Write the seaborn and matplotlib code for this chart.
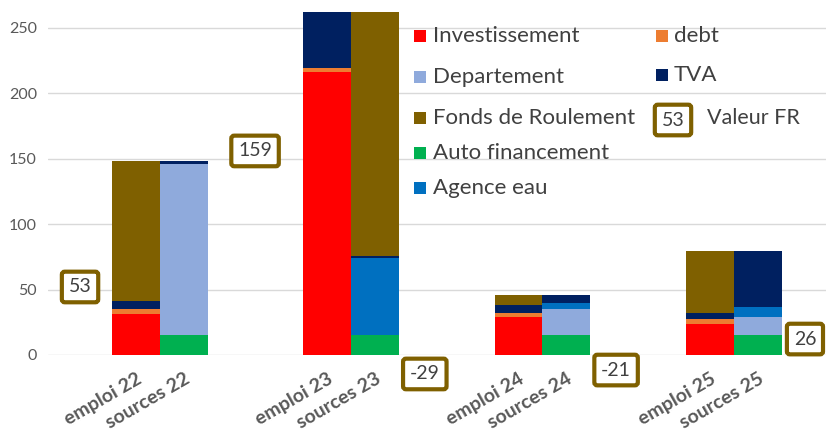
import numpy as np
import pandas as pd
import seaborn as sns
import matplotlib.pyplot as plt
from matplotlib.patches import Rectangle

# bars, in the order they stand on the chart
bars = ["emploi 22", "sources 22", "emploi 23", "sources 23",
        "emploi 24", "sources 24", "emploi 25", "sources 25"]

# stacking order, bottom to top
series = ["Investissement", "Auto financement", "Departement", "Agence eau",
          "debt", "TVA", "Fonds de Roulement"]
investissement = [31, 0, 216, 0, 29, 0, 24, 0]
auto_financement = [0, 15, 0, 15, 0, 15, 0, 15]
departement = [0, 131, 0, 0, 0, 20.5, 0, 14]
agence_eau = [0, 0, 0, 59, 0, 4, 0, 8]
debt = [4, 0, 3.5, 0, 3, 0, 3.5, 0]
tva = [6, 2.5, 43, 1.5, 6, 6, 4.5, 42.5]
fonds_roulement = [107, 0, 0, 187, 7.5, 0, 47.5, 0]

valeur_fr = [53, 159, -29, -21, 26]

colors = {"Investissement": "#FF0000", "debt": "#ED7D31", "Departement": "#8FAADC",
          "TVA": "#002060", "Fonds de Roulement": "#7F6000",
          "Auto financement": "#00B050", "Agence eau": "#0070C0"}
fr_color = "#7F6000"

values = dict(zip(series, [investissement, auto_financement, departement, agence_eau,
                           debt, tva, fonds_roulement]))

# slots: one empty slot before, two between each pair
slot_of = [1 + 4 * (k // 2) + k % 2 for k in range(len(bars))]
order = ["s%d" % i for i in range(16)]

rows = []
for k, b in enumerate(bars):
    base = 0
    for s in series:
        v = values[s][k]
        base += v
        rows.append({"bar": b, "slot": order[slot_of[k]], "series": s, "value": v, "top": base})
df = pd.DataFrame(rows)

sns.set_theme(style="white")
plt.rcParams['font.family'] = ['Lato', 'DejaVu Sans']

fig = plt.figure(figsize=(8.26, 4.34), dpi=100)
ax = fig.add_axes([48 / 826, 1 - 355 / 434, 1 - 48 / 826, 355 / 434])

# draw cumulative tops from the top layer down so each one covers the next
for s in reversed(series):
    sub = df[(df.series == s) & (df.value > 0)]
    sns.barplot(data=sub, x="slot", y="top", order=order, color=colors[s],
                width=1.0, saturation=1, errorbar=None, linewidth=0, ax=ax, zorder=3)

ax.set_xlim(-0.84, 15.43)
ax.set_ylim(0, 271.4)
ax.set_yticks([0, 50, 100, 150, 200, 250])
ax.yaxis.grid(True, color="#D9D9D9", linewidth=1.0, zorder=0)
ax.set_axisbelow(True)
for sp in ax.spines.values():
    sp.set_visible(False)
ax.set_xlabel("")
ax.set_ylabel("")
ax.set_xticks(slot_of)
ax.set_xticklabels(bars, rotation=30, ha="right", rotation_mode="anchor",
                   fontsize=14, fontweight="bold", color="#595959")
ax.tick_params(axis="x", length=0, pad=11)
ax.tick_params(axis="y", length=0, pad=8, labelsize=11.5, labelcolor="#595959")

# Valeur FR boxes
fr_pos = [(-0.17, 52), (3.49, 156), (7.04, -14.5), (11.04, -11.5), (14.99, 12.2)]
for v, (x, y) in zip(valeur_fr, fr_pos):
    ax.text(x, y, str(v), ha="center", va="center", fontsize=14, color="#404040",
            clip_on=False, zorder=6,
            bbox=dict(boxstyle="round,pad=0.35,rounding_size=0.15", fc="white",
                      ec=fr_color, lw=3))

# legend drawn by hand
def px(x, y):
    return x / 826, 1 - y / 434

leg1 = ["Investissement", "Departement", "Fonds de Roulement", "Auto financement", "Agence eau"]
leg1_y = [36, 77, 118, 153, 188]
for name, y in zip(leg1, leg1_y):
    x0, y0 = px(414, y + 6)
    fig.add_artist(Rectangle((x0, y0), 12 / 826, 12 / 434, transform=fig.transFigure,
                             color=colors[name], lw=0))
    tx, ty = px(433, y)
    fig.text(tx, ty, name, fontsize=16, color="#404040", va="center", ha="left")

leg2 = ["debt", "TVA"]
leg2_y = [36, 75]
for name, y in zip(leg2, leg2_y):
    x0, y0 = px(656, y + 6)
    fig.add_artist(Rectangle((x0, y0), 12 / 826, 12 / 434, transform=fig.transFigure,
                             color=colors[name], lw=0))
    tx, ty = px(674, y)
    fig.text(tx, ty, name, fontsize=16, color="#404040", va="center", ha="left")

bx, by = px(673, 120)
fig.text(bx, by, str(valeur_fr[0]), fontsize=14, color="#404040", ha="center", va="center",
         bbox=dict(boxstyle="round,pad=0.35,rounding_size=0.15", fc="white", ec=fr_color, lw=3))
tx, ty = px(707, 118)
fig.text(tx, ty, "Valeur FR", fontsize=15.5, color="#404040", va="center", ha="left")

fig.savefig("out.png", dpi=100)
